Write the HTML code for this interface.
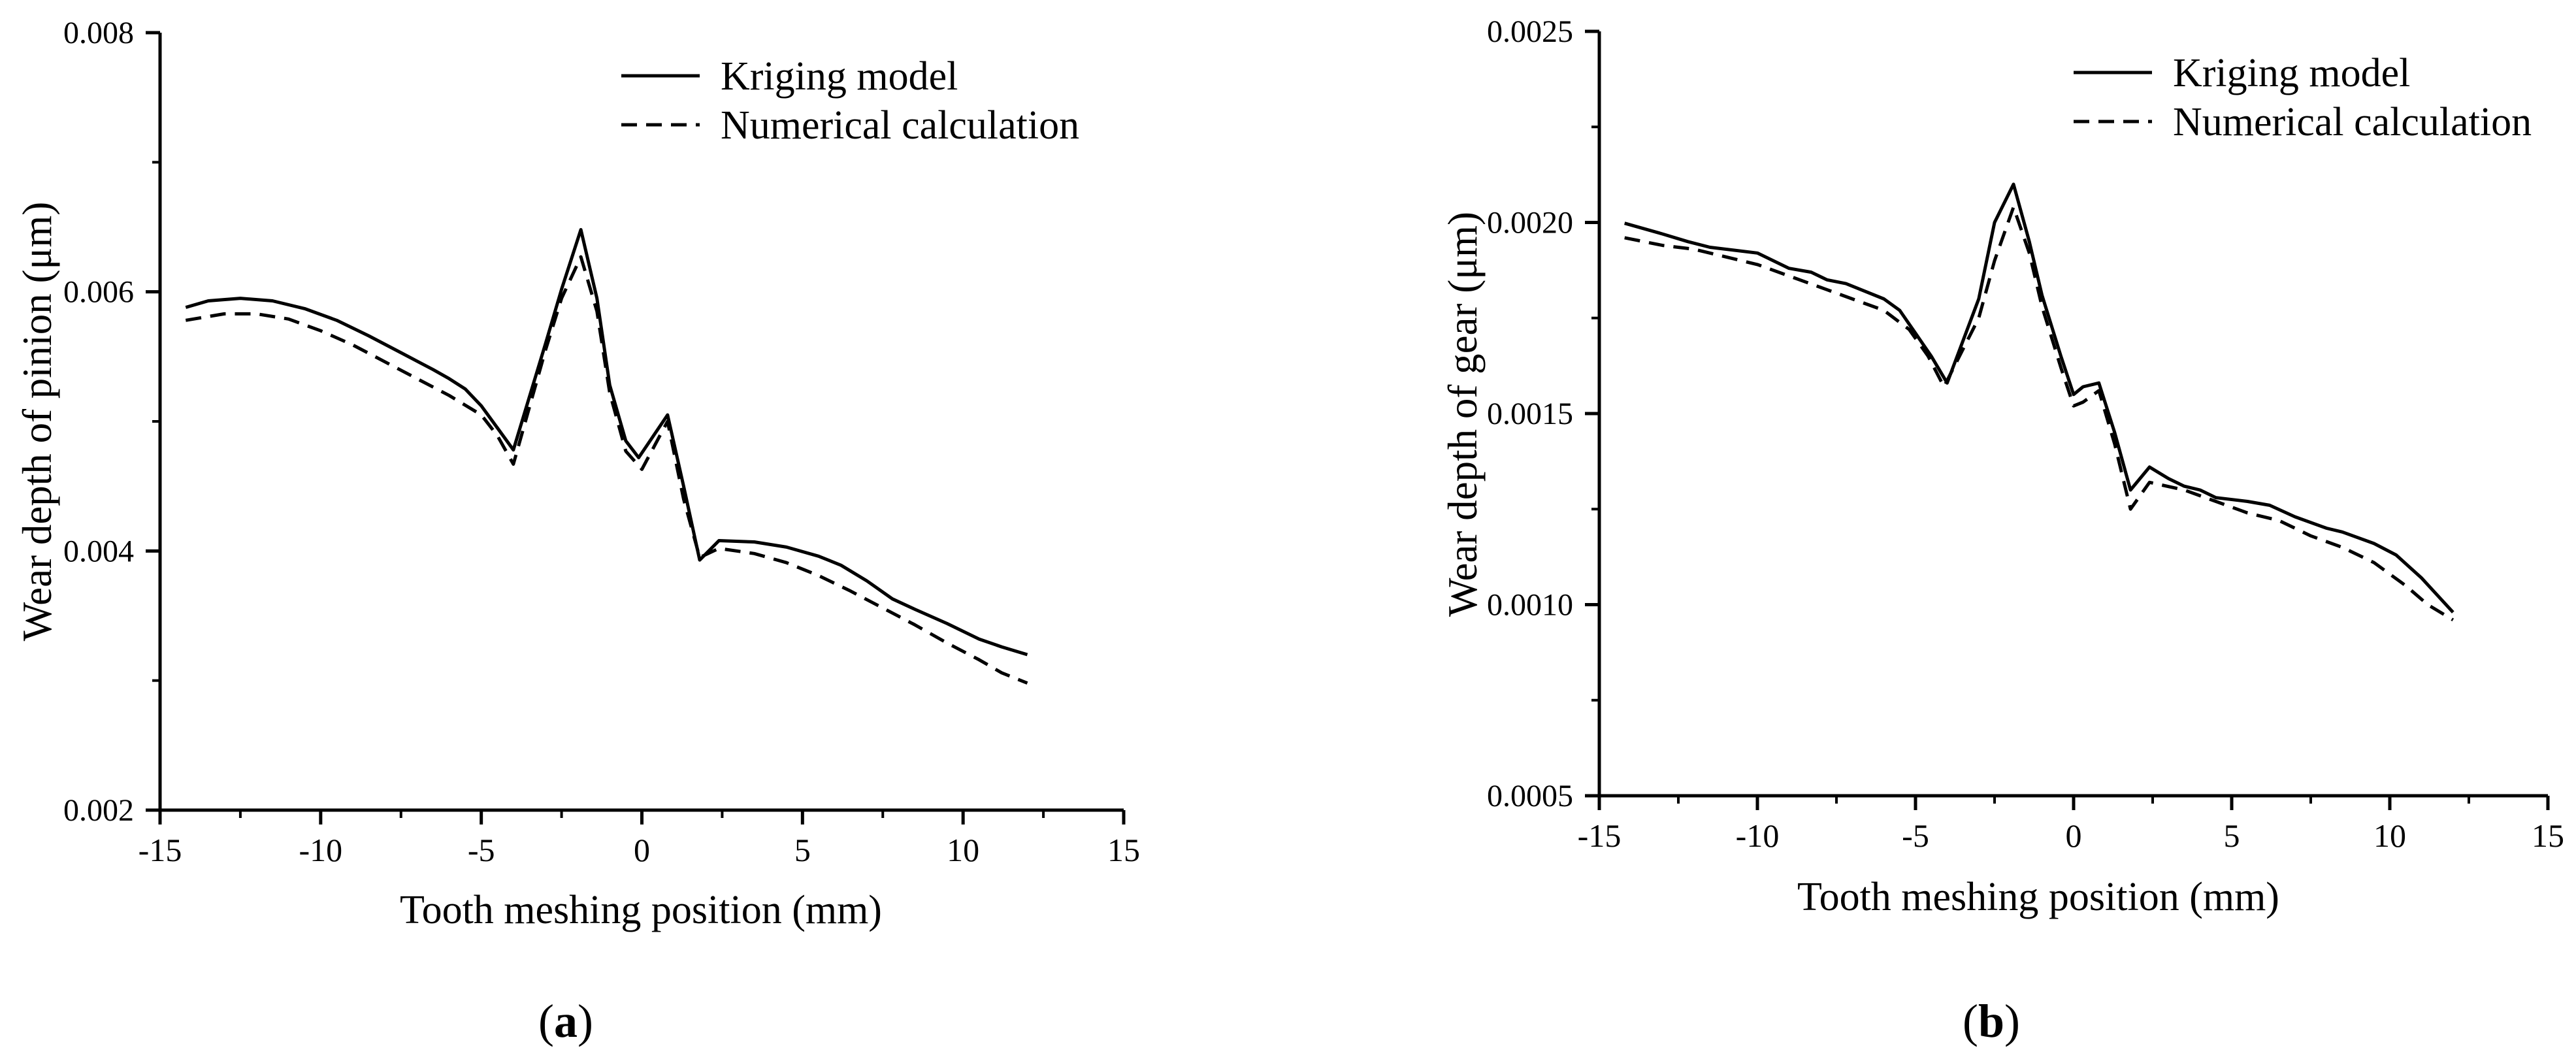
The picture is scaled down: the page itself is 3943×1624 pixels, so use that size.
<!DOCTYPE html>
<html><head><meta charset="utf-8"><style>
html,body{margin:0;padding:0;background:#fff;}
svg{display:block;font-family:"Liberation Serif",serif;}
</style></head><body>
<svg id="svg" width="3943" height="1624" viewBox="0 0 3943 1624">
<g id="ca"></g>
<g id="cb"></g>
<text x="866" y="1587" font-size="72" text-anchor="middle">(<tspan font-weight="bold">a</tspan>)</text>
<text x="3048" y="1587" font-size="72" text-anchor="middle">(<tspan font-weight="bold">b</tspan>)</text>
</svg>
<script>
const xTicks = [-15,-10,-5,0,5,10,15];
const aYTicks = [0.002,0.004,0.006,0.008];
const aYLabels = ["0.002","0.004","0.006","0.008"];
const bYTicks = [0.0005,0.0010,0.0015,0.0020,0.0025];
const bYLabels = ["0.0005","0.0010","0.0015","0.0020","0.0025"];
const aKrigX = [-14.2,-13.5,-12.5,-11.5,-10.5,-9.5,-8.5,-7.5,-6.5,-6,-5.5,-5,-4.5,-4,-3,-2.5,-1.9,-1.4,-1,-0.5,-0.1,0.8,1.3,1.8,2.4,3.5,4.5,5.5,6.2,7,7.8,8.5,9.5,10.5,11.2,12];
const aKrigY = [0.00588,0.00593,0.00595,0.00593,0.00587,0.00578,0.00566,0.00553,0.0054,0.00533,0.00525,0.00512,0.00495,0.00478,0.0056,0.00602,0.00648,0.00595,0.00528,0.00485,0.00472,0.00505,0.0045,0.00393,0.00408,0.00407,0.00403,0.00396,0.00389,0.00377,0.00363,0.00355,0.00344,0.00332,0.00326,0.0032];
const aNumX = [-14.2,-13,-12,-11,-10,-9,-8,-7,-6,-5,-4.5,-4,-3,-2.5,-1.9,-1.4,-1,-0.5,0,0.8,1.3,1.8,2.4,3.5,4.5,5.5,6.5,7.5,8.5,9.5,10.5,11.2,12];
const aNumY = [0.00578,0.00583,0.00583,0.00579,0.0057,0.00559,0.00546,0.00533,0.0052,0.00505,0.00489,0.00467,0.00555,0.00595,0.00627,0.00585,0.00522,0.00477,0.00463,0.005,0.0044,0.00395,0.00402,0.00398,0.00391,0.00381,0.00369,0.00356,0.00343,0.00329,0.00316,0.00306,0.00298];
const bKrigX = [-14.2,-13,-12.2,-11.5,-10,-9.5,-9,-8.3,-7.8,-7.2,-6,-5.5,-5,-4.5,-4,-3,-2.5,-1.9,-1.4,-1,-0.4,0,0.3,0.8,1.3,1.8,2.4,3,3.5,4,4.5,5.5,6.2,7,8,8.5,9.5,10.2,11,12];
const bKrigY = [0.001998,0.00197,0.00195,0.001935,0.00192,0.0019,0.00188,0.00187,0.00185,0.00184,0.0018,0.00177,0.00171,0.00165,0.00158,0.0018,0.002,0.0021,0.00195,0.00181,0.00165,0.00155,0.00157,0.00158,0.00145,0.0013,0.00136,0.00133,0.00131,0.0013,0.00128,0.00127,0.00126,0.00123,0.0012,0.00119,0.00116,0.00113,0.00107,0.00098];
const bNumX = [-14.2,-13,-12,-11,-10,-9,-8,-7,-6,-5.2,-4.6,-4.1,-3,-2.5,-1.9,-1.4,-1,-0.4,0,0.3,0.8,1.3,1.8,2.4,3.5,4.5,5.5,6.5,7.5,8.5,9.5,10.5,11.2,12];
const bNumY = [0.00196,0.00194,0.00193,0.00191,0.00189,0.00186,0.00183,0.0018,0.00177,0.00172,0.00165,0.00157,0.00175,0.0019,0.00204,0.00192,0.00178,0.00162,0.00152,0.00153,0.00156,0.00142,0.00125,0.00132,0.0013,0.00127,0.00124,0.00122,0.00118,0.00115,0.00111,0.00105,0.001,0.00096];

const NS="http://www.w3.org/2000/svg";
function mk(parent,tag,attrs){const e=document.createElementNS(NS,tag);for(const k in attrs)e.setAttribute(k,attrs[k]);parent.appendChild(e);return e;}

function drawChart(g,cfg){
  const sx=v=>cfg.x0+(v-(-15))/30*(cfg.x1-cfg.x0);
  const sy=v=>cfg.y0-(v-cfg.ymin)/(cfg.ymax-cfg.ymin)*(cfg.y0-cfg.y1);
  const ax=mk(g,'path',{d:`M${cfg.x0},${cfg.y1} L${cfg.x0},${cfg.y0} L${cfg.x1},${cfg.y0}`,fill:'none',stroke:'#000','stroke-width':5});
  
  
  for(let i=0;i<xTicks.length;i++){
    const v=xTicks[i];
    const t=mk(g,'line',{x1:sx(v),x2:sx(v),y1:cfg.y0,y2:cfg.y0+22,stroke:'#000','stroke-width':5});
    
    
    if(i<xTicks.length-1){
      const m=mk(g,'line',{x1:sx(v+2.5),x2:sx(v+2.5),y1:cfg.y0,y2:cfg.y0+12,stroke:'#000','stroke-width':4});
      
      
    }
    const l=mk(g,'text',{x:sx(v),y:cfg.y0+78,'font-size':50,'text-anchor':'middle'});
    l.textContent=String(v);
    
    
  }
  for(let i=0;i<cfg.yt.length;i++){
    const v=cfg.yt[i];
    const t=mk(g,'line',{x1:cfg.x0-22,x2:cfg.x0,y1:sy(v),y2:sy(v),stroke:'#000','stroke-width':5});
    
    
    if(i<cfg.yt.length-1){
      const mv=(cfg.yt[i]+cfg.yt[i+1])/2;
      const m=mk(g,'line',{x1:cfg.x0-12,x2:cfg.x0,y1:sy(mv),y2:sy(mv),stroke:'#000','stroke-width':4});
      
      
    }
    const l=mk(g,'text',{x:cfg.x0-40,y:sy(v)+16,'font-size':48,'text-anchor':'end'});
    l.textContent=cfg.yl[i];
    
    
  }
  const xt=mk(g,'text',{x:cfg.xtx,y:cfg.xty,'font-size':62,'text-anchor':'middle'});
  xt.textContent='Tooth meshing position (mm)';
  
  
  const yt=mk(g,'text',{x:0,y:0,'font-size':63,'text-anchor':'middle',transform:`translate(${cfg.ytx},${cfg.yty}) rotate(-90)`});
  yt.textContent=cfg.ytitle;
  
  
  const line=(xs,ys,dash,name)=>{
    let d='';for(let i=0;i<xs.length;i++)d+=(i?'L':'M')+sx(xs[i]).toFixed(1)+','+sy(ys[i]).toFixed(1);
    const p=mk(g,'path',{d:d,fill:'none',stroke:'#000','stroke-width':5,'stroke-linejoin':'round'});
    if(dash)p.setAttribute('stroke-dasharray',dash);
    
    
  };
  line(cfg.kx,cfg.ky,null,'kriging-line');
  line(cfg.nx,cfg.ny,'24 14','numerical-line');
  const L=cfg.leg;
  const l1=mk(g,'line',{x1:L.x,x2:L.x+120,y1:L.y,y2:L.y,stroke:'#000','stroke-width':5});
  
  
  const t1=mk(g,'text',{x:L.x+152,y:L.y+21,'font-size':62});
  t1.textContent='Kriging model';
  
  
  const l2=mk(g,'line',{x1:L.x,x2:L.x+120,y1:L.y+75,y2:L.y+75,stroke:'#000','stroke-width':5,'stroke-dasharray':'24 14'});
  
  
  const t2=mk(g,'text',{x:L.x+152,y:L.y+96,'font-size':62});
  t2.textContent='Numerical calculation';
  
  
}
drawChart(document.getElementById('ca'),{x0:245,x1:1720,y0:1240,y1:50,ymin:0.002,ymax:0.008,yt:aYTicks,yl:aYLabels,
 kx:aKrigX,ky:aKrigY,nx:aNumX,ny:aNumY,xtx:981,xty:1413,ytx:78,yty:645,ytitle:'Wear depth of pinion (μm)',leg:{x:951,y:116}});
drawChart(document.getElementById('cb'),{x0:2448,x1:3900,y0:1218,y1:48,ymin:0.0005,ymax:0.0025,yt:bYTicks,yl:bYLabels,
 kx:bKrigX,ky:bKrigY,nx:bNumX,ny:bNumY,xtx:3120,xty:1393,ytx:2260,yty:634,ytitle:'Wear depth of gear (μm)',leg:{x:3174,y:111}});
</script>
</body></html>
